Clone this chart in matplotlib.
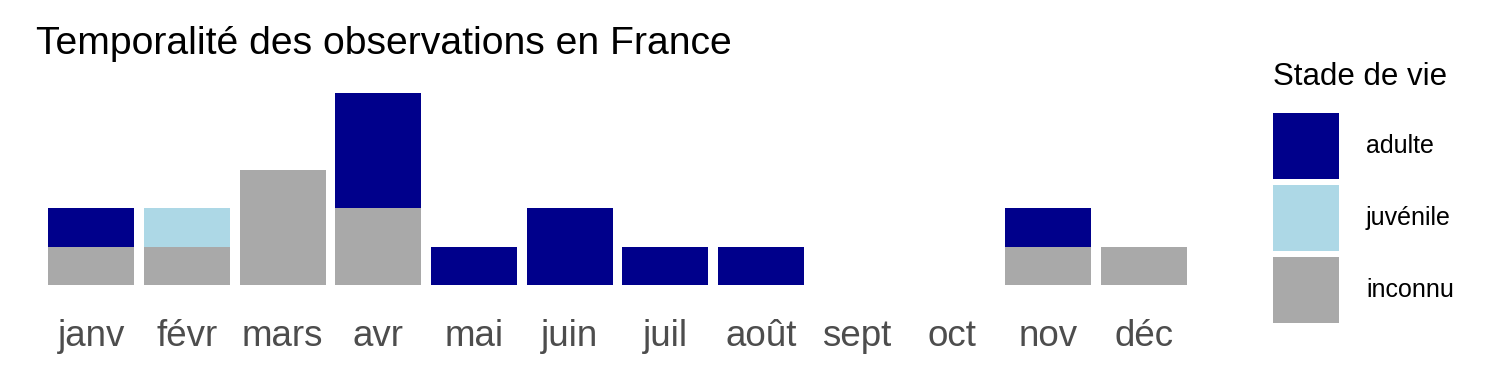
import numpy as np
import matplotlib.pyplot as plt
from matplotlib.patches import Patch

plt.rcParams['font.family'] = ['Liberation Sans', 'DejaVu Sans']

mois = ['janv', 'févr', 'mars', 'avr', 'mai', 'juin', 'juil', 'août', 'sept', 'oct', 'nov', 'déc']
inconnu = [1, 1, 3, 2, 0, 0, 0, 0, 0, 0, 1, 1]
juvenile = [0, 1, 0, 0, 0, 0, 0, 0, 0, 0, 0, 0]
adulte = [1, 0, 0, 3, 1, 2, 1, 1, 0, 0, 1, 0]

stades = ['adulte', 'juvénile', 'inconnu']
couleurs = ['#00008B', '#ADD8E6', '#A9A9A9']

fig = plt.figure(figsize=(15, 3.75), dpi=100)
ax = fig.add_axes([34/1500, 80/375, (1201-34)/1500, (295-83)/375])

x = np.arange(len(mois))
inconnu = np.array(inconnu)
juvenile = np.array(juvenile)
adulte = np.array(adulte)
ax.bar(x, inconnu, width=0.9, color=couleurs[2])
ax.bar(x, juvenile, width=0.9, bottom=inconnu, color=couleurs[1])
ax.bar(x, adulte, width=0.9, bottom=inconnu + juvenile, color=couleurs[0])

ymax = (inconnu + juvenile + adulte).max()
ax.set_xlim(-0.6, len(mois) - 0.4)
ax.set_ylim(-0.05 * ymax, 1.05 * ymax)
ax.set_xticks(x)
ax.set_xticklabels(mois, fontsize=26.5, color='#4D4D4D')
ax.tick_params(axis='x', length=0, pad=17)
ax.set_yticks([])
for s in ax.spines.values():
    s.set_visible(False)

fig.text(36/1500, 1 - 44/375, 'Temporalité des observations en France',
         fontsize=28.2, va='center', ha='left')

handles = [Patch(facecolor=c, edgecolor='none') for c in couleurs]
leg = fig.legend(handles, stades, loc='upper left', bbox_to_anchor=(1268/1500, 1 - 57/375),
                 frameon=False, fontsize=18, title='Stade de vie', title_fontsize=22.5,
                 handlelength=2.64, handleheight=3.68, labelspacing=0.24,
                 handletextpad=1.08, borderaxespad=0, borderpad=0.2)
leg._legend_box.align = 'left'
leg._legend_box.sep = 15

fig.savefig('out.png', dpi=100)
